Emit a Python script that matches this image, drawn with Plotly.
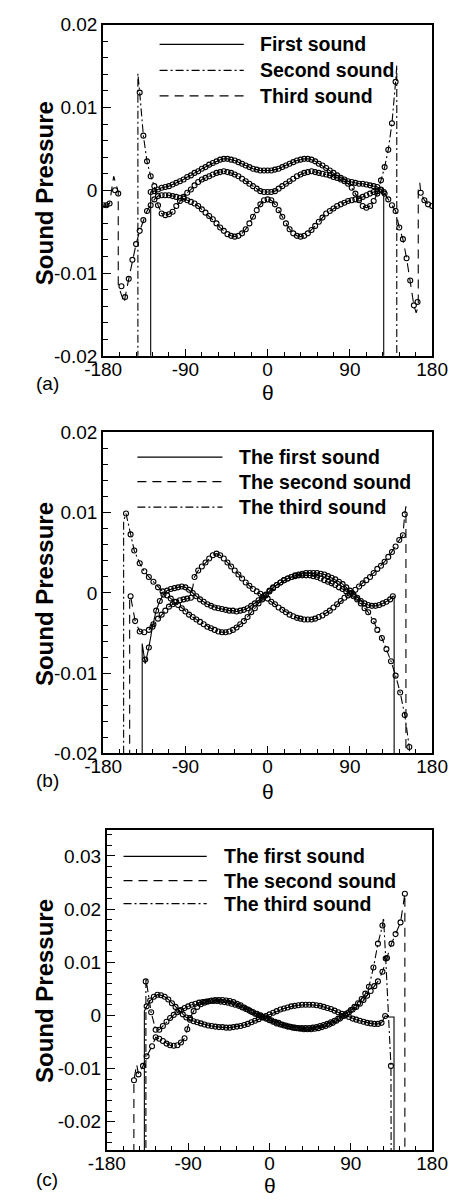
import plotly.graph_objects as go

# ---------------- Panel (a) ----------------
a1_th = [-128, -124, -120, -116, -112, -108, -104, -100, -96, -92, -88, -84, -80, -76, -72, -68, -64, -60,
         -56, -52, -48, -44, -40, -36, -32, -28, -24, -20, -16, -12, -8, -4, 0, 4, 8, 12, 16, 20, 24, 28,
         32, 36, 40, 44, 48, 52, 56, 60, 64, 68, 72, 76, 80, 84, 88, 92, 96, 100, 104, 108, 112, 116, 120,
         124, 127]
a1_p = [-0.0002, -0.0001, 0.0001, 0.0003, 0.0004, 0.0005, 0.0007, 0.0009, 0.0011, 0.0013, 0.0016, 0.0018,
        0.0021, 0.0023, 0.0026, 0.0028, 0.0031, 0.0033, 0.0035, 0.0037, 0.0038, 0.0038, 0.0037, 0.0036,
        0.0034, 0.0032, 0.0030, 0.0028, 0.0026, 0.0025, 0.0024, 0.0024, 0.0024, 0.0024, 0.0025, 0.0026,
        0.0028, 0.0030, 0.0032, 0.0034, 0.0036, 0.0037, 0.0038, 0.0038, 0.0037, 0.0035, 0.0032, 0.0030,
        0.0027, 0.0024, 0.0021, 0.0018, 0.0015, 0.0013, 0.0011, 0.0010, 0.0009, 0.0008, 0.0008, 0.0007,
        0.0006, 0.0005, 0.0004, 0.0001, -0.0002]
a1_left_th, a1_left_p = [-128, -128], [-0.03, -0.0002]
a1_right_th, a1_right_p = [127, 127], [-0.0002, -0.03]

a2_th = [-140, -136, -132, -128, -124, -120, -116, -112, -108, -104, -100, -96, -92, -88, -84, -80, -76,
         -72, -68, -64, -60, -56, -52, -48, -44, -40, -36, -32, -28, -24, -20, -16, -12, -8, -4, 0, 4, 8,
         12, 16, 20, 24, 28, 32, 36, 40, 44, 48, 52, 56, 60, 64, 68, 72, 76, 80, 84, 88, 92, 96, 100, 104,
         108, 112, 116, 120, 124, 128, 132, 136, 140]
a2_p = [0.0118, 0.0066, 0.0035, 0.0017, 0.0005, -0.0018, -0.0028, -0.0030, -0.0029, -0.0026, -0.0019,
        -0.0013, -0.0008, -0.0003, 0.0001, 0.0006, 0.0010, 0.0013, 0.0015, 0.0017, 0.0019, 0.0021, 0.0022,
        0.0023, 0.0022, 0.0021, 0.0019, 0.0017, 0.0014, 0.0011, 0.0008, 0.0005, 0.0002, -0.0001, -0.0002,
        -0.0002, -0.0002, -0.0001, 0.0002, 0.0005, 0.0008, 0.0011, 0.0014, 0.0017, 0.0019, 0.0021, 0.0022,
        0.0023, 0.0022, 0.0021, 0.0020, 0.0019, 0.0018, 0.0016, 0.0015, 0.0013, 0.0011, 0.0008, 0.0003,
        -0.0004, -0.0012, -0.0019, -0.0021, -0.0019, -0.0013, -0.0004, 0.0012, 0.0028, 0.0049, 0.0081,
        0.0131]
a2_left_th, a2_left_p = [-142, -142], [-0.03, 0.0141]
a2_right_th, a2_right_p = [141.3, 141.3], [0.0151, -0.03]

a3_th = [-180, -176.5, -173, -167, -163.5, -160, -156, -152, -148, -144, -140, -136, -132, -128, -124,
         -120, -116, -112, -108, -104, -100, -96, -92, -88, -84, -80, -76, -72, -68, -64, -60, -56, -52,
         -48, -44, -40, -36, -32, -28, -24, -20, -16, -12, -8, -4, 0, 4, 8, 12, 16, 20, 24, 28, 32, 36,
         40, 44, 48, 52, 56, 60, 64, 68, 72, 76, 80, 84, 88, 92, 96, 100, 104, 108, 112, 116, 120, 124,
         128, 132, 136, 140, 144, 148, 152, 156, 160, 164, 167.5, 171.5, 175.5, 180]
a3_p = [-0.0018, -0.0018, -0.0016, 0.0000, -0.0004, -0.0116, -0.0129, -0.0107, -0.0084, -0.0065,
        -0.0049, -0.0036, -0.0025, -0.0018, -0.0011, -0.0007, -0.0006, -0.0006, -0.0006, -0.0007,
        -0.0008, -0.0009, -0.0010, -0.0012, -0.0014, -0.0016, -0.0019, -0.0023, -0.0027, -0.0031,
        -0.0035, -0.0040, -0.0045, -0.0049, -0.0053, -0.0055, -0.0056, -0.0055, -0.0052, -0.0047,
        -0.0040, -0.0032, -0.0024, -0.0017, -0.0012, -0.0011, -0.0012, -0.0017, -0.0024, -0.0032,
        -0.0040, -0.0047, -0.0052, -0.0055, -0.0056, -0.0055, -0.0052, -0.0048, -0.0043, -0.0038,
        -0.0033, -0.0028, -0.0025, -0.0022, -0.0019, -0.0017, -0.0015, -0.0013, -0.0012, -0.0011,
        -0.0010, -0.0008, -0.0006, -0.0004, -0.0002, -0.0001, 0.0000, -0.0004, -0.0011, -0.0018,
        -0.0025, -0.0045, -0.0059, -0.0082, -0.0109, -0.0139, -0.0135, -0.0003, -0.0012, -0.0017,
        -0.0019]
a3_left_th = [-180, -176.5, -173, -168.5, -163.5, -163.5, -157]
a3_left_p = [-0.0018, -0.0018, -0.0016, 0.0017, -0.0002, -0.0115, -0.0136]
a3_right_th = [162.5, 164.8, 164.8, 166.5, 167.5, 171.5, 175.5, 180]
a3_right_p = [-0.0148, -0.0140, 0.0000, 0.0009, -0.0003, -0.0012, -0.0017, -0.0019]

# ---------------- Panel (b) ----------------
b1_th = [-134, -130, -126, -122, -118, -114, -110, -106, -102, -98, -94, -90, -86, -82, -78, -74, -70,
         -66, -62, -58, -54, -50, -46, -42, -38, -34, -30, -26, -22, -18, -14, -10, -6, -2, 2, 6, 10, 14,
         18, 22, 26, 30, 34, 38, 42, 46, 50, 54, 58, 62, 66, 70, 74, 78, 82, 86, 90, 94, 98, 102, 106,
         110, 114, 118, 122, 126, 130, 134, 137]
b1_p = [-0.0083, -0.0068, -0.0042, -0.0022, -0.0010, -0.0002, 0.0003, 0.0005, 0.0006, 0.0007, 0.0008,
        0.0007, 0.0004, 0.0000, -0.0004, -0.0008, -0.0011, -0.0014, -0.0016, -0.0018, -0.0019, -0.0020,
        -0.0021, -0.0022, -0.0022, -0.0023, -0.0022, -0.0021, -0.0019, -0.0016, -0.0013, -0.0009,
        -0.0006, -0.0002, 0.0003, 0.0007, 0.0010, 0.0013, 0.0016, 0.0018, 0.0020, 0.0022, 0.0023, 0.0024,
        0.0025, 0.0025, 0.0025, 0.0025, 0.0024, 0.0023, 0.0021, 0.0019, 0.0017, 0.0014, 0.0011, 0.0007,
        0.0003, -0.0002, -0.0006, -0.0010, -0.0013, -0.0015, -0.0016, -0.0016, -0.0015, -0.0013,
        -0.0011, -0.0008, -0.0004]
b1_left_th, b1_left_p = [-137.3, -137.3, -134], [-0.03, -0.0063, -0.0088]
b1_right_th, b1_right_p = [138.4, 138.4], [-0.0004, -0.03]

b2_th = [-150, -145, -140, -135, -130, -125, -120, -116, -112, -108, -104, -100, -96, -92, -88, -84,
         -80, -76, -72, -68, -64, -60, -56, -52, -48, -44, -40, -36, -32, -28, -24, -20, -16, -12, -8,
         -4, 0, 4, 8, 12, 16, 20, 24, 28, 32, 36, 40, 44, 48, 52, 56, 60, 64, 68, 72, 76, 80, 84, 88, 92,
         96, 100, 104, 108, 112, 116, 120, 124, 128, 132, 136, 140, 144, 148, 150]
b2_p = [-0.0004, -0.0035, -0.0048, -0.0049, -0.0046, -0.0039, -0.0032, -0.0027, -0.0022, -0.0017,
        -0.0014, -0.0011, -0.0009, -0.0008, -0.0007, -0.0006, 0.0020, 0.0028, 0.0033, 0.0038, 0.0043,
        0.0047, 0.0049, 0.0047, 0.0043, 0.0038, 0.0033, 0.0028, 0.0023, 0.0018, 0.0013, 0.0009, 0.0005,
        0.0002, -0.0001, -0.0004, -0.0007, -0.0011, -0.0014, -0.0018, -0.0021, -0.0024, -0.0027,
        -0.0029, -0.0031, -0.0032, -0.0033, -0.0033, -0.0033, -0.0032, -0.0030, -0.0028, -0.0025,
        -0.0022, -0.0018, -0.0014, -0.0010, -0.0006, -0.0003, 0.0000, 0.0004, 0.0008, 0.0012, 0.0016,
        0.0020, 0.0025, 0.0030, 0.0034, 0.0039, 0.0045, 0.0051, 0.0058, 0.0066, 0.0072, 0.0098]
b2_left_th, b2_left_p = [-151, -151], [-0.03, -0.0004]
b2_right_th, b2_right_p = [151.3, 151.3], [0.0108, -0.03]

b3_th = [-155, -150, -146, -140, -135, -130, -125, -120, -115, -110, -106, -102, -98, -94, -90, -86,
         -82, -78, -74, -70, -66, -62, -58, -54, -50, -46, -42, -38, -34, -30, -26, -22, -18, -14, -10,
         -6, -2, 2, 6, 10, 14, 18, 22, 26, 30, 34, 38, 42, 46, 50, 54, 58, 62, 66, 70, 74, 78, 82, 86, 90,
         94, 98, 102, 106, 110, 116, 120, 125, 130, 135, 140, 145, 150, 155]
b3_p = [0.0099, 0.0073, 0.0053, 0.0037, 0.0027, 0.0020, 0.0014, 0.0007, 0.0002, -0.0003, -0.0007,
        -0.0011, -0.0015, -0.0019, -0.0023, -0.0027, -0.0030, -0.0033, -0.0036, -0.0039, -0.0042,
        -0.0044, -0.0046, -0.0048, -0.0049, -0.0049, -0.0048, -0.0046, -0.0043, -0.0039, -0.0035,
        -0.0030, -0.0024, -0.0019, -0.0013, -0.0008, -0.0003, 0.0002, 0.0006, 0.0010, 0.0013, 0.0016,
        0.0018, 0.0020, 0.0021, 0.0022, 0.0022, 0.0022, 0.0022, 0.0021, 0.0020, 0.0018, 0.0016, 0.0014,
        0.0012, 0.0010, 0.0007, 0.0005, 0.0002, -0.0001, -0.0004, -0.0008, -0.0013, -0.0019, -0.0024,
        -0.0035, -0.0046, -0.0056, -0.0070, -0.0085, -0.0103, -0.0124, -0.0152, -0.0192]
b3_left_th, b3_left_p = [-157.6, -157.6], [-0.03, 0.0090]
b3_right_th, b3_right_p = [157], [-0.03]

# ---------------- Panel (c) ----------------
c1_th = [-136, -132, -128, -124, -120, -116, -112, -108, -104, -100, -96, -92, -88, -84, -80, -76, -72,
         -68, -64, -60, -56, -52, -48, -44, -40, -36, -32, -28, -24, -20, -16, -12, -8, -4, 0, 4, 8, 12,
         16, 20, 24, 28, 32, 36, 40, 44, 48, 52, 56, 60, 64, 68, 72, 76, 80, 84, 88, 92, 96, 100, 104,
         108, 112, 116, 120, 124, 128]
c1_p = [0.0017, 0.0028, 0.0035, 0.0039, 0.0038, 0.0035, 0.0030, 0.0023, 0.0016, 0.0009, 0.0002,
        -0.0004, -0.0008, -0.0011, -0.0013, -0.0015, -0.0017, -0.0019, -0.0020, -0.0021, -0.0022,
        -0.0022, -0.0023, -0.0023, -0.0022, -0.0021, -0.0020, -0.0018, -0.0016, -0.0013, -0.0010,
        -0.0007, -0.0004, -0.0001, 0.0002, 0.0005, 0.0008, 0.0011, 0.0013, 0.0015, 0.0017, 0.0018,
        0.0019, 0.0020, 0.0020, 0.0020, 0.0020, 0.0019, 0.0018, 0.0016, 0.0014, 0.0012, 0.0009, 0.0006,
        0.0003, 0.0000, -0.0003, -0.0006, -0.0008, -0.0010, -0.0012, -0.0014, -0.0015, -0.0016,
        -0.0016, -0.0014, -0.0001]
c1_left_th, c1_left_p = [-138.5, -138.5], [-0.04, 0.0008]
c1_right_th, c1_right_p = [132, 137.8, 137.8], [-0.0003, -0.0003, -0.04]

c2_th = [-150, -145, -140, -136, -130, -126, -122, -118, -114, -110, -106, -102, -98, -94, -91, -88,
         -84, -80, -76, -72, -68, -64, -60, -56, -52, -48, -44, -40, -36, -32, -28, -24, -20, -16, -12,
         -8, -4, 0, 4, 8, 12, 16, 20, 24, 28, 32, 36, 40, 44, 48, 52, 56, 60, 64, 68, 72, 76, 80, 84, 88,
         92, 96, 100, 104, 108, 112, 116, 120, 125, 130, 135, 139.5, 145, 149.8]
c2_p = [-0.0122, -0.0111, -0.0095, -0.0077, -0.0058, -0.0041, -0.0044, -0.0048, -0.0053, -0.0056,
        -0.0057, -0.0056, -0.0051, -0.0043, -0.0026, -0.0005, 0.0008, 0.0016, 0.0021, 0.0024, 0.0026,
        0.0028, 0.0029, 0.0029, 0.0029, 0.0028, 0.0027, 0.0025, 0.0022, 0.0019, 0.0015, 0.0011, 0.0007,
        0.0003, 0.0000, -0.0003, -0.0006, -0.0009, -0.0012, -0.0015, -0.0017, -0.0019, -0.0021,
        -0.0022, -0.0023, -0.0024, -0.0024, -0.0024, -0.0024, -0.0023, -0.0022, -0.0020, -0.0018,
        -0.0016, -0.0013, -0.0010, -0.0006, -0.0002, 0.0002, 0.0006, 0.0011, 0.0016, 0.0022, 0.0029,
        0.0037, 0.0046, 0.0055, 0.0064, 0.0082, 0.0108, 0.0135, 0.0153, 0.0175, 0.0229]
c2_left_th, c2_left_p = [-150.1, -150.1, -147], [-0.04, -0.0122, -0.0092]
c2_right_th, c2_right_p = [149.8, 149.8], [0.0229, -0.04]

c3_th = [-137, -131, -126, -122, -118, -114, -110, -106, -102, -98, -94, -90, -86, -82, -78, -74, -70,
         -66, -62, -58, -54, -50, -46, -42, -38, -34, -30, -26, -22, -18, -14, -10, -6, -2, 2, 6, 10, 14,
         18, 22, 26, 30, 34, 38, 42, 46, 50, 54, 58, 62, 66, 70, 74, 78, 82, 86, 90, 94, 98, 102, 106,
         110, 115, 120, 125, 128.6, 134.4]
c3_p = [0.0064, 0.0006, -0.0027, -0.0027, -0.0020, -0.0012, -0.0005, 0.0001, 0.0006, 0.0010, 0.0014,
        0.0017, 0.0020, 0.0022, 0.0024, 0.0025, 0.0026, 0.0027, 0.0027, 0.0027, 0.0026, 0.0025, 0.0024,
        0.0022, 0.0020, 0.0018, 0.0015, 0.0012, 0.0009, 0.0006, 0.0003, 0.0000, -0.0003, -0.0006,
        -0.0009, -0.0012, -0.0014, -0.0017, -0.0019, -0.0021, -0.0023, -0.0024, -0.0025, -0.0026,
        -0.0026, -0.0026, -0.0025, -0.0024, -0.0022, -0.0020, -0.0017, -0.0014, -0.0010, -0.0006,
        -0.0001, 0.0004, 0.0010, 0.0016, 0.0023, 0.0031, 0.0041, 0.0054, 0.0090, 0.0135, 0.0169, 0.0107,
        -0.0095]
c3_left_th, c3_left_p = [-136.8, -136.8], [-0.04, 0.0070]
c3_right_th, c3_right_p = [126.2, 128.6, 134.4, 134.8], [0.0184, 0.0107, -0.0095, -0.04]

# ---------------- Axis ticks ----------------
x_tickvals = [-180, -90, 0, 90, 180]
x_ticktext = ["-180", "-90", "0", "90", "180"]
ab_tickvals = [-0.02, -0.01, 0, 0.01, 0.02]
ab_ticktext = ["-0.02", "-0.01", "0", "0.01", "0.02"]
c_tickvals = [-0.02, -0.01, 0, 0.01, 0.02, 0.03]
c_ticktext = ["-0.02", "-0.01", "0", "0.01", "0.02", "0.03"]

legend_a = ["First sound", "Second sound", "Third sound"]
legend_bc = ["The first sound", "The second sound", "The third sound"]

W, H = 466, 1203
FONT = "Liberation Sans, Arial, Helvetica, sans-serif"
SOLID, DASH, DASHDOT = "solid", "9px,6px", "8px,3px,2px,3px"


def px(x):
    return x / W


def py(y):
    return 1 - y / H


def line_path(th, p, lth, lp, rth, rp):
    lo = lth[-1] if lth else -1e9
    hi = rth[0] if rth else 1e9
    mid = [(t, v) for t, v in zip(th, p) if lo < t < hi]
    return (list(lth) + [t for t, _ in mid] + list(rth),
            list(lp) + [v for _, v in mid] + list(rp))


fig = go.Figure()


def add_series(th, p, lth, lp, rth, rp, dash, xa, ya):
    lx, ly = line_path(th, p, lth, lp, rth, rp)
    fig.add_trace(go.Scatter(x=lx, y=ly, mode="lines", xaxis=xa, yaxis=ya, showlegend=False,
                             line=dict(color="black", width=1.1, dash=dash), hoverinfo="skip"))
    fig.add_trace(go.Scatter(x=th, y=p, mode="markers", xaxis=xa, yaxis=ya, showlegend=False,
                             marker=dict(symbol="circle-open", size=5, color="black",
                                         line=dict(width=1.1, color="black"))))


add_series(a1_th, a1_p, a1_left_th, a1_left_p, a1_right_th, a1_right_p, SOLID, "x", "y")
add_series(a2_th, a2_p, a2_left_th, a2_left_p, a2_right_th, a2_right_p, DASHDOT, "x", "y")
add_series(a3_th, a3_p, a3_left_th, a3_left_p, a3_right_th, a3_right_p, DASH, "x", "y")

add_series(b1_th, b1_p, b1_left_th, b1_left_p, b1_right_th, b1_right_p, SOLID, "x2", "y2")
add_series(b2_th, b2_p, b2_left_th, b2_left_p, b2_right_th, b2_right_p, DASH, "x2", "y2")
add_series(b3_th, b3_p, b3_left_th, b3_left_p, b3_right_th, b3_right_p, DASHDOT, "x2", "y2")

add_series(c1_th, c1_p, c1_left_th, c1_left_p, c1_right_th, c1_right_p, SOLID, "x3", "y3")
add_series(c2_th, c2_p, c2_left_th, c2_left_p, c2_right_th, c2_right_p, DASH, "x3", "y3")
add_series(c3_th, c3_p, c3_left_th, c3_left_p, c3_right_th, c3_right_p, DASHDOT, "x3", "y3")

tickfont = dict(family=FONT, size=19, color="black")


def xaxis(domain, anchor):
    return dict(domain=domain, anchor=anchor, range=[-180, 180], tickmode="array",
                tickvals=x_tickvals, ticktext=x_ticktext, ticks="inside", ticklen=7, tickwidth=1.2,
                tickcolor="black", ticklabelstandoff=-5,
                minor=dict(tickmode="linear", tick0=-180, dtick=18, ticks="inside", ticklen=4,
                           tickwidth=1, tickcolor="black", showgrid=False),
                showline=True, linecolor="black", linewidth=2, mirror=True, showgrid=False,
                zeroline=False, tickfont=tickfont, fixedrange=True)


def yaxis(domain, anchor, rng, tv, tt):
    return dict(domain=domain, anchor=anchor, range=rng, tickmode="array", tickvals=tv, ticktext=tt,
                ticks="inside", ticklen=8, tickwidth=1.2, tickcolor="black",
                minor=dict(tickmode="linear", tick0=0, dtick=0.002, ticks="inside", ticklen=5,
                           tickwidth=1, tickcolor="black", showgrid=False),
                showline=True, linecolor="black", linewidth=2, mirror=True, showgrid=False,
                zeroline=False, tickfont=tickfont, fixedrange=True)


fig.update_layout(
    width=W, height=H, margin=dict(l=0, r=0, t=0, b=0),
    paper_bgcolor="white", plot_bgcolor="white", showlegend=False,
    xaxis=xaxis([px(91), px(446.7)], "y"),
    yaxis=yaxis([py(352), py(15)], "x", [-0.02, 0.02], ab_tickvals, ab_ticktext),
    xaxis2=xaxis([px(91), px(446.7)], "y2"),
    yaxis2=yaxis([py(756.7), py(430)], "x2", [-0.02, 0.02], ab_tickvals, ab_ticktext),
    xaxis3=xaxis([px(95), px(446.7)], "y3"),
    yaxis3=yaxis([py(1160.7), py(835)], "x3", [-0.0254, 0.0348], c_tickvals, c_ticktext),
)

shapes, annotations = [], []


def legend(x0, x1, xt, rows, labels, dashes):
    for yy, lab, d in zip(rows, labels, dashes):
        shapes.append(dict(type="line", xref="paper", yref="paper", x0=px(x0), x1=px(x1),
                           y0=py(yy), y1=py(yy), line=dict(color="black", width=1.2, dash=d)))
        annotations.append(dict(xref="paper", yref="paper", x=px(xt), y=py(yy), text=lab,
                                showarrow=False, xanchor="left", yanchor="middle",
                                font=dict(family=FONT, size=19.5, color="black", weight="bold")))


legend(152, 243, 258, [35, 61.5, 87.5], legend_a, [SOLID, DASHDOT, DASH])
legend(128, 220, 236, [455, 480, 506], legend_bc, [SOLID, DASH, DASHDOT])
legend(113, 203, 219, [861.5, 886, 909.5], legend_bc, [SOLID, DASH, DASHDOT])


def panel_text(label, label_y, theta_x, theta_y, title_y):
    annotations.append(dict(xref="paper", yref="paper", x=px(16), y=py(label_y), text=label,
                            showarrow=False, xanchor="left", yanchor="middle",
                            font=dict(family=FONT, size=19, color="black")))
    annotations.append(dict(xref="paper", yref="paper", x=px(theta_x), y=py(theta_y), text="θ",
                            showarrow=False, xanchor="center", yanchor="middle",
                            font=dict(family=FONT, size=21, color="black")))
    annotations.append(dict(xref="paper", yref="paper", x=px(27.5), y=py(title_y),
                            text="Sound Pressure", textangle=-90, showarrow=False,
                            xanchor="center", yanchor="middle",
                            font=dict(family=FONT, size=24, color="black", weight="bold")))


panel_text("(a)", 380, 269, 389, 186)
panel_text("(b)", 784, 269, 795, 594)
panel_text("(c)", 1190, 271, 1196, 998)

fig.update_layout(shapes=shapes, annotations=annotations)
fig.write_html("out.html")
